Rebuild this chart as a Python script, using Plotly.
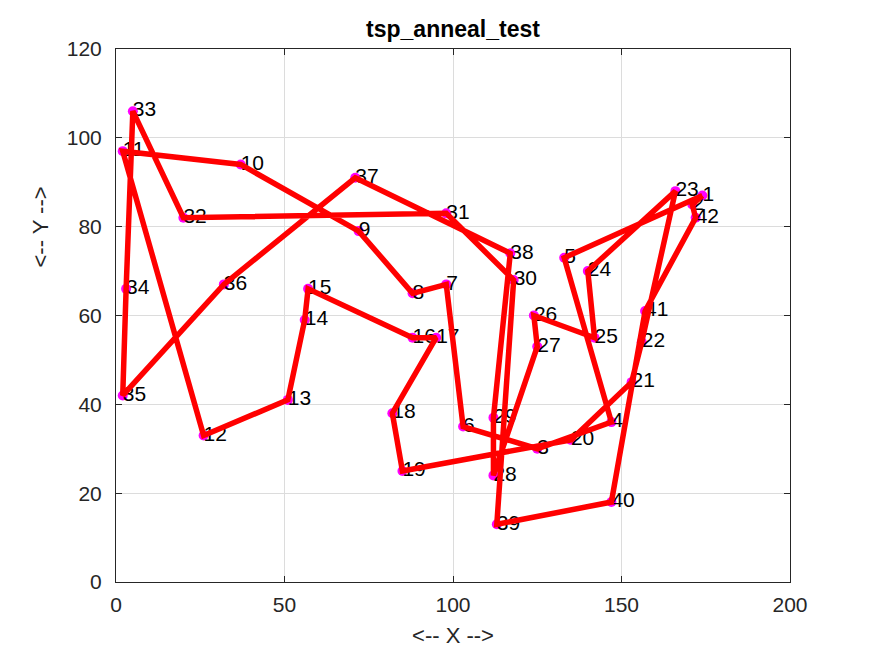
import plotly.graph_objects as go

city_ids = list(range(1, 43))
city_x = [174, 171, 125, 147, 133, 103, 98, 88, 72, 37,
          2, 26, 51, 56, 57, 88, 95, 82, 85, 135,
          153, 156, 166, 140, 142, 124, 125, 112, 112, 118,
          98, 20, 5, 3, 2, 32, 71, 117, 113, 147,
          157, 172]
city_y = [87, 85, 30, 36, 73, 35, 67, 65, 79, 94,
          97, 33, 41, 59, 66, 55, 55, 38, 25, 32,
          45, 54, 88, 70, 55, 60, 53, 24, 37, 68,
          83, 82, 106, 66, 42, 67, 91, 74, 13, 18,
          61, 82]
tour = [1, 5, 4, 3, 6, 7, 8, 9, 10, 11, 12, 13, 14, 15, 16, 17, 18, 19, 20,
        21, 22, 23, 24, 25, 26, 27, 28, 29, 38, 37, 36, 35, 34, 33, 32, 31,
        30, 39, 40, 41, 42, 2, 1]

tour_x = [city_x[i - 1] for i in tour]
tour_y = [city_y[i - 1] for i in tour]

FONT = "Liberation Sans"
AX = "#262626"

fig = go.Figure()
fig.add_trace(go.Scatter(x=city_x, y=city_y, mode="markers",
                         marker=dict(color="#ff00ff", size=10, line=dict(width=0)),
                         hoverinfo="skip", showlegend=False))
fig.add_trace(go.Scatter(x=city_x, y=city_y, mode="text",
                         text=[str(i) for i in city_ids],
                         textposition="middle right",
                         textfont=dict(family=FONT, size=21, color="black"),
                         hoverinfo="skip", showlegend=False))
fig.add_trace(go.Scatter(x=tour_x, y=tour_y, mode="lines",
                         line=dict(color="#ff0000", width=5.5),
                         hoverinfo="skip", showlegend=False))

axis_common = dict(showgrid=True, gridcolor="#dcdcdc", gridwidth=1,
                   showline=True, linecolor=AX, linewidth=1, mirror="ticks",
                   ticks="inside", ticklen=6, tickcolor=AX,
                   tickfont=dict(family=FONT, size=21, color=AX),
                   zeroline=False)

fig.update_layout(
    width=872, height=654,
    paper_bgcolor="white", plot_bgcolor="white",
    margin=dict(l=108, r=90, t=41, b=80),
    title=dict(text="<b>tsp_anneal_test</b>", x=0.5, xref="paper",
               xanchor="center", y=0.968, yanchor="middle",
               font=dict(family=FONT, size=23, color="black")),
    xaxis=dict(range=[0, 200], tickvals=[0, 50, 100, 150, 200],
               ticklabelstandoff=4,
               title=dict(text="<-- X -->", standoff=12,
                          font=dict(family=FONT, size=22, color=AX)),
               **axis_common),
    yaxis=dict(range=[0, 120], tickvals=[0, 20, 40, 60, 80, 100, 120],
               ticklabelstandoff=9),
    annotations=[dict(text="<-- Y -->", xref="paper", yref="paper",
                      x=-0.112, y=0.666, xanchor="center", yanchor="middle",
                      textangle=-90, showarrow=False,
                      font=dict(family=FONT, size=22, color=AX))],
)
fig.update_yaxes(**axis_common)

fig.write_html("out.html")
